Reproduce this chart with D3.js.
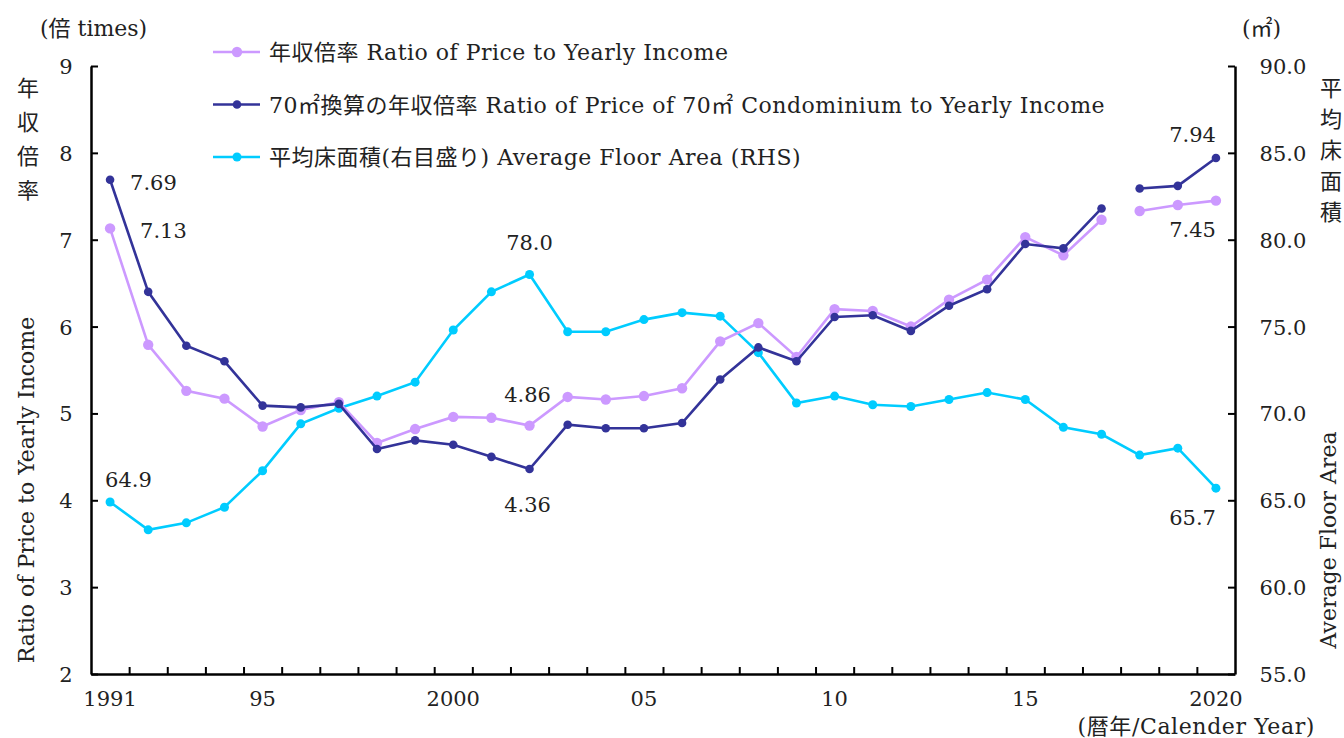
<!DOCTYPE html>
<html>
<head>
<meta charset="utf-8">
<script src="https://cdn.jsdelivr.net/npm/d3@7"></script>
<style>
  body { margin: 0; background: #fff; }
  svg text { font-family: "DejaVu Serif", "Noto Sans CJK JP", serif; fill: #222; }
</style>
</head>
<body>
<div id="chart"></div>
<script>
// data
var years = d3.range(1991, 2021);
var priceRatio = [7.13, 5.79, 5.26, 5.17, 4.85, 5.04, 5.13, 4.66, 4.82, 4.96,
  4.95, 4.86, 5.19, 5.16, 5.20, 5.29, 5.83, 6.04, 5.65, 6.20,
  6.18, 6.00, 6.31, 6.54, 7.03, 6.82, 7.23, 7.33, 7.40, 7.45];
var priceRatio70 = [7.69, 6.40, 5.78, 5.60, 5.09, 5.07, 5.11, 4.59, 4.69, 4.64,
  4.50, 4.36, 4.87, 4.83, 4.83, 4.89, 5.39, 5.76, 5.60, 6.11,
  6.13, 5.95, 6.24, 6.43, 6.95, 6.90, 7.36, 7.59, 7.62, 7.94];
var floorArea = [64.9, 63.3, 63.7, 64.6, 66.7, 69.4, 70.3, 71.0, 71.8, 74.8,
  77.0, 78.0, 74.7, 74.7, 75.4, 75.8, 75.6, 73.5, 70.6, 71.0,
  70.5, 70.4, 70.8, 71.2, 70.8, 69.2, 68.8, 67.6, 68.0, 65.7];
var breakYear = 2018; // ratio series are not joined across this year
var xLabelYears = [1991, 1995, 2000, 2005, 2010, 2015, 2020];
var xLabelText = ["1991", "95", "2000", "05", "10", "15", "2020"];
var leftTicks = [2, 3, 4, 5, 6, 7, 8, 9];
var rightTicks = [55, 60, 65, 70, 75, 80, 85, 90];

var width = 1344;
var height = 738;
var plotLeft = 91;
var plotRight = 1235;
var plotTop = 66;
var plotBottom = 674;

var cLight = "#cc99ff";
var cDark = "#333399";
var cCyan = "#00ccff";

var svg = d3.select("#chart").append("svg")
  .attr("width", width)
  .attr("height", height);

var x = d3.scaleLinear().domain([1990.5, 2020.5]).range([plotLeft, plotRight]);
var yL = d3.scaleLinear().domain([2, 9]).range([plotBottom, plotTop]);
var yR = d3.scaleLinear().domain([55, 90]).range([plotBottom, plotTop]);

// axes
var xAxis = d3.axisTop(x)
  .tickValues(d3.range(1991.5, 2020, 1))
  .tickSize(7)
  .tickSizeOuter(0)
  .tickFormat("");
svg.append("g")
  .attr("class", "xAxis")
  .attr("transform", "translate(0," + plotBottom + ")")
  .call(xAxis);

var yAxisL = d3.axisRight(yL).tickValues(leftTicks).tickSize(7).tickSizeOuter(0).tickFormat("");
svg.append("g")
  .attr("class", "yAxisL")
  .attr("transform", "translate(" + plotLeft + ",0)")
  .call(yAxisL);

var yAxisR = d3.axisLeft(yR).tickValues(rightTicks).tickSize(7).tickSizeOuter(0).tickFormat("");
svg.append("g")
  .attr("class", "yAxisR")
  .attr("transform", "translate(" + plotRight + ",0)")
  .call(yAxisR);

svg.selectAll(".xAxis path, .yAxisL path, .yAxisR path")
  .attr("stroke", "#000").attr("stroke-width", 2.5);
svg.selectAll(".tick line").attr("stroke", "#000").attr("stroke-width", 2);

// tick labels
svg.append("g").selectAll("text")
  .data(leftTicks).enter().append("text")
  .attr("x", 66).attr("y", function(d) { return yL(d) + 8; })
  .attr("text-anchor", "middle")
  .attr("font-size", 21)
  .text(function(d) { return d; });

svg.append("g").selectAll("text")
  .data(rightTicks).enter().append("text")
  .attr("x", 1283).attr("y", function(d) { return yR(d) + 8; })
  .attr("text-anchor", "middle")
  .attr("font-size", 21)
  .text(function(d) { return d.toFixed(1); });

svg.append("g").selectAll("text")
  .data(xLabelYears).enter().append("text")
  .attr("x", function(d) { return x(d); })
  .attr("y", 706)
  .attr("text-anchor", "middle")
  .attr("font-size", 21)
  .text(function(d, i) { return xLabelText[i]; });

// axis titles
svg.append("text").attr("x", 40).attr("y", 36).attr("font-size", 22).text("(倍 times)");
svg.append("text").attr("x", 1242).attr("y", 36).attr("font-size", 22).text("(㎡)");
svg.append("text").attr("x", 1315).attr("y", 734).attr("text-anchor", "end")
  .attr("font-size", 22).attr("letter-spacing", 0.6).text("(暦年/Calender Year)");

["年", "収", "倍", "率"].forEach(function(ch, i) {
  svg.append("text").attr("x", 28).attr("y", 96 + i * 34)
    .attr("text-anchor", "middle").attr("font-size", 22).text(ch);
});
["平", "均", "床", "面", "積"].forEach(function(ch, i) {
  svg.append("text").attr("x", 1331).attr("y", 96 + i * 31)
    .attr("text-anchor", "middle").attr("font-size", 22).text(ch);
});

svg.append("text")
  .attr("transform", "translate(34,490)rotate(-90)")
  .attr("text-anchor", "middle").attr("font-size", 22)
  .text("Ratio of Price to Yearly Income");
svg.append("text")
  .attr("transform", "translate(1336,540)rotate(-90)")
  .attr("text-anchor", "middle").attr("font-size", 22)
  .text("Average Floor Area");

// series
function rows(vals) {
  return years.map(function(yr, i) { return { year: yr, v: vals[i] }; });
}

function drawSeries(vals, scale, color, r, split) {
  var data = rows(vals);
  var parts = split
    ? [data.filter(function(d) { return d.year < breakYear; }),
       data.filter(function(d) { return d.year >= breakYear; })]
    : [data];
  var line = d3.line()
    .x(function(d) { return x(d.year); })
    .y(function(d) { return scale(d.v); });
  var g = svg.append("g");
  parts.forEach(function(p) {
    g.append("path").attr("d", line(p))
      .attr("fill", "none").attr("stroke", color).attr("stroke-width", 2.6);
  });
  g.selectAll("circle").data(data).enter().append("circle")
    .attr("cx", function(d) { return x(d.year); })
    .attr("cy", function(d) { return scale(d.v); })
    .attr("r", r)
    .attr("fill", color);
}

drawSeries(floorArea, yR, cCyan, 4.5, false);
drawSeries(priceRatio, yL, cLight, 5.2, true);
drawSeries(priceRatio70, yL, cDark, 4.3, true);

// value labels
function valueLabel(txt, px, py, anchor) {
  svg.append("text").attr("x", px).attr("y", py)
    .attr("text-anchor", anchor || "start")
    .attr("font-size", 21).text(txt);
}
var iLast = years.length - 1;
var iMin = years.indexOf(2002);
valueLabel(priceRatio70[0].toFixed(2), x(1991) + 20, yL(priceRatio70[0]) + 10);
valueLabel(priceRatio[0].toFixed(2), x(1991) + 30, yL(priceRatio[0]) + 10);
valueLabel(floorArea[0].toFixed(1), x(1991) - 5, yR(floorArea[0]) - 15);
valueLabel(floorArea[iMin].toFixed(1), x(2002), yR(floorArea[iMin]) - 24, "middle");
valueLabel(priceRatio[iMin].toFixed(2), x(2002) - 2, yL(priceRatio[iMin]) - 24, "middle");
valueLabel(priceRatio70[iMin].toFixed(2), x(2002) - 2, yL(priceRatio70[iMin]) + 43, "middle");
valueLabel(priceRatio70[iLast].toFixed(2), x(2020), yL(priceRatio70[iLast]) - 16, "end");
valueLabel(priceRatio[iLast].toFixed(2), x(2020), yL(priceRatio[iLast]) + 36, "end");
valueLabel(floorArea[iLast].toFixed(1), x(2020), yR(floorArea[iLast]) + 37, "end");

// legend
var legend = [
  { color: cLight, r: 5.2, label: "年収倍率 Ratio of Price to Yearly Income" },
  { color: cDark, r: 4.3, label: "70㎡換算の年収倍率 Ratio of Price of 70㎡ Condominium to Yearly Income" },
  { color: cCyan, r: 4.5, label: "平均床面積(右目盛り) Average Floor Area (RHS)" }
];
var lg = svg.append("g").selectAll("g").data(legend).enter().append("g")
  .attr("transform", function(d, i) { return "translate(213," + (52 + i * 52.5) + ")"; });
lg.append("line").attr("x1", 0).attr("x2", 47)
  .attr("stroke", function(d) { return d.color; }).attr("stroke-width", 2.6);
lg.append("circle").attr("cx", 24).attr("r", function(d) { return d.r; })
  .attr("fill", function(d) { return d.color; });
lg.append("text").attr("x", 56).attr("y", 8).attr("font-size", 22)
  .attr("letter-spacing", 0.5)
  .text(function(d) { return d.label; });
</script>
</body>
</html>
